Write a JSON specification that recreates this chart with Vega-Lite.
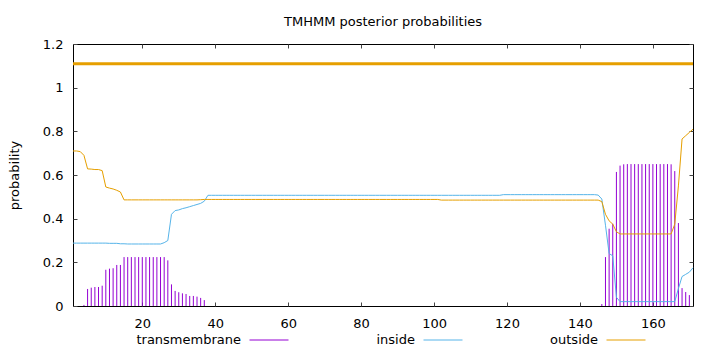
{
  "$schema": "https://vega.github.io/schema/vega-lite/v6.json",
  "width": 620,
  "height": 262,
  "autosize": {"type": "none"},
  "padding": {"left": 73, "top": 44, "right": 27, "bottom": 46},
  "title": {"text": "TMHMM posterior probabilities", "fontSize": 13, "fontWeight": "normal", "font": "DejaVu Sans", "color": "#000", "offset": 9},
  "config": {
    "view": {"stroke": "#000", "strokeWidth": 1},
    "axis": {"domain": false, "grid": false, "labelFont": "DejaVu Sans", "labelFontSize": 13, "labelColor": "#000", "tickColor": "#444", "tickSize": -4, "labelFlush": false, "labelOverlap": false, "labelBound": false, "title": null},
    "legend": {"padding": 0, "labelFont": "DejaVu Sans", "labelFontSize": 13, "labelColor": "#000", "symbolType": "stroke", "symbolSize": 1521, "symbolStrokeWidth": 1, "labelAlign": "right", "labelOffset": -48, "columnPadding": 85, "labelLimit": 300, "title": null}
  },
  "data": {"values": [
    {"p":1,"tm":0,"inside":0.288,"outside":0.71},
    {"p":2,"tm":0,"inside":0.288,"outside":0.71},
    {"p":3,"tm":0,"inside":0.288,"outside":0.707},
    {"p":4,"tm":0.005,"inside":0.288,"outside":0.69},
    {"p":5,"tm":0.078,"inside":0.288,"outside":0.628},
    {"p":6,"tm":0.084,"inside":0.288,"outside":0.627},
    {"p":7,"tm":0.087,"inside":0.288,"outside":0.625},
    {"p":8,"tm":0.087,"inside":0.288,"outside":0.625},
    {"p":9,"tm":0.093,"inside":0.288,"outside":0.62},
    {"p":10,"tm":0.166,"inside":0.288,"outside":0.545},
    {"p":11,"tm":0.171,"inside":0.287,"outside":0.54},
    {"p":12,"tm":0.173,"inside":0.287,"outside":0.536},
    {"p":13,"tm":0.188,"inside":0.287,"outside":0.53},
    {"p":14,"tm":0.188,"inside":0.285,"outside":0.522},
    {"p":15,"tm":0.224,"inside":0.285,"outside":0.486},
    {"p":16,"tm":0.224,"inside":0.284,"outside":0.486},
    {"p":17,"tm":0.224,"inside":0.284,"outside":0.486},
    {"p":18,"tm":0.224,"inside":0.284,"outside":0.486},
    {"p":19,"tm":0.224,"inside":0.284,"outside":0.486},
    {"p":20,"tm":0.224,"inside":0.284,"outside":0.486},
    {"p":21,"tm":0.224,"inside":0.284,"outside":0.486},
    {"p":22,"tm":0.224,"inside":0.284,"outside":0.486},
    {"p":23,"tm":0.224,"inside":0.284,"outside":0.486},
    {"p":24,"tm":0.224,"inside":0.284,"outside":0.486},
    {"p":25,"tm":0.224,"inside":0.284,"outside":0.486},
    {"p":26,"tm":0.224,"inside":0.29,"outside":0.486},
    {"p":27,"tm":0.209,"inside":0.30,"outside":0.486},
    {"p":28,"tm":0.099,"inside":0.42,"outside":0.486},
    {"p":29,"tm":0.069,"inside":0.437,"outside":0.486},
    {"p":30,"tm":0.063,"inside":0.44,"outside":0.486},
    {"p":31,"tm":0.058,"inside":0.446,"outside":0.486},
    {"p":32,"tm":0.055,"inside":0.45,"outside":0.486},
    {"p":33,"tm":0.046,"inside":0.455,"outside":0.486},
    {"p":34,"tm":0.046,"inside":0.46,"outside":0.486},
    {"p":35,"tm":0.043,"inside":0.465,"outside":0.486},
    {"p":36,"tm":0.037,"inside":0.47,"outside":0.487},
    {"p":37,"tm":0.027,"inside":0.48,"outside":0.488},
    {"p":38,"tm":0,"inside":0.507,"outside":0.488},
    {"p":39,"tm":0,"inside":0.507,"outside":0.488},
    {"p":40,"tm":0,"inside":0.507,"outside":0.488},
    {"p":41,"tm":0,"inside":0.507,"outside":0.488},
    {"p":42,"tm":0,"inside":0.507,"outside":0.488},
    {"p":43,"tm":0,"inside":0.507,"outside":0.488},
    {"p":44,"tm":0,"inside":0.507,"outside":0.488},
    {"p":45,"tm":0,"inside":0.507,"outside":0.488},
    {"p":46,"tm":0,"inside":0.507,"outside":0.488},
    {"p":47,"tm":0,"inside":0.507,"outside":0.488},
    {"p":48,"tm":0,"inside":0.507,"outside":0.488},
    {"p":49,"tm":0,"inside":0.507,"outside":0.488},
    {"p":50,"tm":0,"inside":0.507,"outside":0.488},
    {"p":51,"tm":0,"inside":0.507,"outside":0.488},
    {"p":52,"tm":0,"inside":0.507,"outside":0.488},
    {"p":53,"tm":0,"inside":0.507,"outside":0.488},
    {"p":54,"tm":0,"inside":0.507,"outside":0.488},
    {"p":55,"tm":0,"inside":0.507,"outside":0.488},
    {"p":56,"tm":0,"inside":0.507,"outside":0.488},
    {"p":57,"tm":0,"inside":0.507,"outside":0.488},
    {"p":58,"tm":0,"inside":0.507,"outside":0.488},
    {"p":59,"tm":0,"inside":0.507,"outside":0.488},
    {"p":60,"tm":0,"inside":0.507,"outside":0.488},
    {"p":61,"tm":0,"inside":0.507,"outside":0.488},
    {"p":62,"tm":0,"inside":0.507,"outside":0.488},
    {"p":63,"tm":0,"inside":0.507,"outside":0.488},
    {"p":64,"tm":0,"inside":0.507,"outside":0.488},
    {"p":65,"tm":0,"inside":0.507,"outside":0.488},
    {"p":66,"tm":0,"inside":0.507,"outside":0.488},
    {"p":67,"tm":0,"inside":0.507,"outside":0.488},
    {"p":68,"tm":0,"inside":0.507,"outside":0.488},
    {"p":69,"tm":0,"inside":0.507,"outside":0.488},
    {"p":70,"tm":0,"inside":0.507,"outside":0.488},
    {"p":71,"tm":0,"inside":0.507,"outside":0.488},
    {"p":72,"tm":0,"inside":0.507,"outside":0.488},
    {"p":73,"tm":0,"inside":0.507,"outside":0.488},
    {"p":74,"tm":0,"inside":0.507,"outside":0.488},
    {"p":75,"tm":0,"inside":0.507,"outside":0.488},
    {"p":76,"tm":0,"inside":0.507,"outside":0.488},
    {"p":77,"tm":0,"inside":0.507,"outside":0.488},
    {"p":78,"tm":0,"inside":0.507,"outside":0.488},
    {"p":79,"tm":0,"inside":0.507,"outside":0.488},
    {"p":80,"tm":0,"inside":0.507,"outside":0.488},
    {"p":81,"tm":0,"inside":0.507,"outside":0.488},
    {"p":82,"tm":0,"inside":0.507,"outside":0.488},
    {"p":83,"tm":0,"inside":0.507,"outside":0.488},
    {"p":84,"tm":0,"inside":0.507,"outside":0.488},
    {"p":85,"tm":0,"inside":0.507,"outside":0.488},
    {"p":86,"tm":0,"inside":0.507,"outside":0.488},
    {"p":87,"tm":0,"inside":0.507,"outside":0.488},
    {"p":88,"tm":0,"inside":0.507,"outside":0.488},
    {"p":89,"tm":0,"inside":0.507,"outside":0.488},
    {"p":90,"tm":0,"inside":0.507,"outside":0.488},
    {"p":91,"tm":0,"inside":0.507,"outside":0.488},
    {"p":92,"tm":0,"inside":0.507,"outside":0.488},
    {"p":93,"tm":0,"inside":0.507,"outside":0.488},
    {"p":94,"tm":0,"inside":0.507,"outside":0.488},
    {"p":95,"tm":0,"inside":0.507,"outside":0.488},
    {"p":96,"tm":0,"inside":0.507,"outside":0.488},
    {"p":97,"tm":0,"inside":0.507,"outside":0.488},
    {"p":98,"tm":0,"inside":0.507,"outside":0.488},
    {"p":99,"tm":0,"inside":0.507,"outside":0.488},
    {"p":100,"tm":0,"inside":0.507,"outside":0.488},
    {"p":101,"tm":0,"inside":0.507,"outside":0.488},
    {"p":102,"tm":0,"inside":0.507,"outside":0.485},
    {"p":103,"tm":0,"inside":0.507,"outside":0.485},
    {"p":104,"tm":0,"inside":0.507,"outside":0.485},
    {"p":105,"tm":0,"inside":0.507,"outside":0.485},
    {"p":106,"tm":0,"inside":0.507,"outside":0.485},
    {"p":107,"tm":0,"inside":0.507,"outside":0.485},
    {"p":108,"tm":0,"inside":0.507,"outside":0.485},
    {"p":109,"tm":0,"inside":0.507,"outside":0.485},
    {"p":110,"tm":0,"inside":0.507,"outside":0.485},
    {"p":111,"tm":0,"inside":0.507,"outside":0.485},
    {"p":112,"tm":0,"inside":0.507,"outside":0.485},
    {"p":113,"tm":0,"inside":0.507,"outside":0.485},
    {"p":114,"tm":0,"inside":0.507,"outside":0.485},
    {"p":115,"tm":0,"inside":0.507,"outside":0.485},
    {"p":116,"tm":0,"inside":0.507,"outside":0.485},
    {"p":117,"tm":0,"inside":0.507,"outside":0.485},
    {"p":118,"tm":0,"inside":0.507,"outside":0.485},
    {"p":119,"tm":0,"inside":0.51,"outside":0.485},
    {"p":120,"tm":0,"inside":0.51,"outside":0.485},
    {"p":121,"tm":0,"inside":0.51,"outside":0.485},
    {"p":122,"tm":0,"inside":0.51,"outside":0.485},
    {"p":123,"tm":0,"inside":0.51,"outside":0.485},
    {"p":124,"tm":0,"inside":0.51,"outside":0.485},
    {"p":125,"tm":0,"inside":0.51,"outside":0.485},
    {"p":126,"tm":0,"inside":0.51,"outside":0.485},
    {"p":127,"tm":0,"inside":0.51,"outside":0.485},
    {"p":128,"tm":0,"inside":0.51,"outside":0.485},
    {"p":129,"tm":0,"inside":0.51,"outside":0.485},
    {"p":130,"tm":0,"inside":0.51,"outside":0.485},
    {"p":131,"tm":0,"inside":0.51,"outside":0.485},
    {"p":132,"tm":0,"inside":0.51,"outside":0.485},
    {"p":133,"tm":0,"inside":0.51,"outside":0.485},
    {"p":134,"tm":0,"inside":0.51,"outside":0.485},
    {"p":135,"tm":0,"inside":0.51,"outside":0.485},
    {"p":136,"tm":0,"inside":0.51,"outside":0.485},
    {"p":137,"tm":0,"inside":0.51,"outside":0.485},
    {"p":138,"tm":0,"inside":0.51,"outside":0.485},
    {"p":139,"tm":0,"inside":0.51,"outside":0.485},
    {"p":140,"tm":0,"inside":0.51,"outside":0.485},
    {"p":141,"tm":0,"inside":0.51,"outside":0.485},
    {"p":142,"tm":0,"inside":0.51,"outside":0.485},
    {"p":143,"tm":0,"inside":0.51,"outside":0.485},
    {"p":144,"tm":0,"inside":0.51,"outside":0.485},
    {"p":145,"tm":0,"inside":0.508,"outside":0.485},
    {"p":146,"tm":0.009,"inside":0.49,"outside":0.478},
    {"p":147,"tm":0.224,"inside":0.37,"outside":0.42},
    {"p":148,"tm":0.354,"inside":0.24,"outside":0.39},
    {"p":149,"tm":0.377,"inside":0.23,"outside":0.375},
    {"p":150,"tm":0.614,"inside":0.04,"outside":0.34},
    {"p":151,"tm":0.643,"inside":0.02,"outside":0.33},
    {"p":152,"tm":0.649,"inside":0.02,"outside":0.33},
    {"p":153,"tm":0.65,"inside":0.02,"outside":0.33},
    {"p":154,"tm":0.65,"inside":0.02,"outside":0.33},
    {"p":155,"tm":0.65,"inside":0.02,"outside":0.33},
    {"p":156,"tm":0.65,"inside":0.02,"outside":0.33},
    {"p":157,"tm":0.65,"inside":0.02,"outside":0.33},
    {"p":158,"tm":0.65,"inside":0.02,"outside":0.33},
    {"p":159,"tm":0.65,"inside":0.02,"outside":0.33},
    {"p":160,"tm":0.65,"inside":0.02,"outside":0.33},
    {"p":161,"tm":0.65,"inside":0.02,"outside":0.33},
    {"p":162,"tm":0.65,"inside":0.02,"outside":0.33},
    {"p":163,"tm":0.65,"inside":0.02,"outside":0.33},
    {"p":164,"tm":0.65,"inside":0.02,"outside":0.33},
    {"p":165,"tm":0.649,"inside":0.02,"outside":0.33},
    {"p":166,"tm":0.618,"inside":0.02,"outside":0.375},
    {"p":167,"tm":0.38,"inside":0.08,"outside":0.55},
    {"p":168,"tm":0.082,"inside":0.135,"outside":0.765},
    {"p":169,"tm":0.064,"inside":0.145,"outside":0.78},
    {"p":170,"tm":0.05,"inside":0.155,"outside":0.795},
    {"p":171,"tm":0,"inside":0.175,"outside":0.81}
  ]},
  "resolve": {"axis": {"x": "independent", "y": "independent"}},
  "layer": [
    {
      "mark": {"type": "rule", "strokeWidth": 1},
      "encoding": {
        "x": {"field": "p", "type": "quantitative", "scale": {"domain": [1, 171], "nice": false, "zero": false},
              "axis": {"orient": "bottom", "values": [20, 40, 60, 80, 100, 120, 140, 160], "labelPadding": 15}},
        "y": {"field": "tm", "type": "quantitative", "scale": {"domain": [0, 1.2], "nice": false},
              "axis": {"orient": "left", "values": [0, 0.2, 0.4, 0.6, 0.8, 1, 1.2], "format": "~g", "labelPadding": 14, "title": "probability", "titleFont": "DejaVu Sans", "titleFontSize": 13, "titleFontWeight": "normal", "titleColor": "#000", "titlePadding": 21}},
        "y2": {"datum": 0},
        "color": {"datum": "transmembrane", "type": "nominal",
                  "scale": {"domain": ["transmembrane", "inside", "outside"], "range": ["#9400d3", "#56b4e9", "#e69f00"]},
                  "legend": {"orient": "none", "legendX": 176, "legendY": 276, "direction": "horizontal", "title": null}}
      }
    },
    {
      "transform": [{"fold": ["inside", "outside"], "as": ["series", "prob"]}],
      "mark": {"type": "line", "strokeWidth": 1},
      "encoding": {
        "x": {"field": "p", "type": "quantitative", "scale": {"domain": [1, 171], "nice": false, "zero": false}, "axis": null},
        "y": {"field": "prob", "type": "quantitative", "scale": {"domain": [0, 1.2], "nice": false}, "axis": null},
        "color": {"field": "series", "type": "nominal", "scale": {"domain": ["transmembrane", "inside", "outside"], "range": ["#9400d3", "#56b4e9", "#e69f00"]}}
      }
    },
    {
      "data": {"values": [{"start": 1, "end": 171, "level": 1.11}]},
      "mark": {"type": "rule", "strokeWidth": 3, "color": "#e69f00"},
      "encoding": {
        "x": {"field": "start", "type": "quantitative", "scale": {"domain": [1, 171], "nice": false, "zero": false},
              "axis": {"orient": "top", "values": [20, 40, 60, 80, 100, 120, 140, 160], "labels": false}},
        "x2": {"field": "end"},
        "y": {"field": "level", "type": "quantitative", "scale": {"domain": [0, 1.2], "nice": false},
              "axis": {"orient": "right", "values": [0, 0.2, 0.4, 0.6, 0.8, 1, 1.2], "labels": false}}
      }
    }
  ]
}
